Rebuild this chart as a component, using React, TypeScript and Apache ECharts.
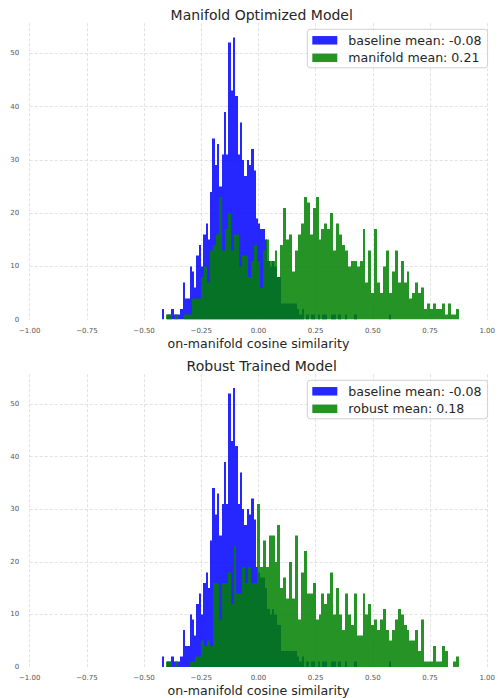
import { useEffect, useRef } from "react";
import * as echarts from "echarts";

// ---- data ----
const xTickValues = [-1, -0.75, -0.5, -0.25, 0, 0.25, 0.5, 0.75, 1];
const yTickValues = [0, 10, 20, 30, 40, 50];

const baselineStart = -0.4211;
const baselineBinWidth = 0.01;
const baselineCounts = [
  2, 0, 1, 1, 2, 1, 1, 1, 2, 7,
  4, 4, 10, 9, 6, 12, 14, 10, 16, 18,
  15, 24, 34, 29, 33, 25, 31, 39, 31, 52,
  43, 53, 42, 31, 37, 30, 27, 30, 29, 32,
  28, 19, 18, 17, 17, 15, 11, 10, 11, 10,
  8, 8, 3, 3, 3, 3, 3, 3, 3, 2,
  1, 2, 0, 1, 0, 1, 1, 0, 1, 0,
  1, 1, 0, 0, 1, 1, 0, 1, 0, 0,
  1, 0, 0, 0, 1, 0, 0, 0, 0, 0,
  0, 0, 0, 0, 0, 0, 0, 0, 0, 1,
];

const greenStart = -0.4039;
const greenBinWidth = 0.01282;
const manifoldCounts = [
  1, 1, 0, 1, 0, 0, 1, 1, 1, 4,
  4, 4, 8, 10, 7, 13, 14, 16, 23, 13,
  17, 20, 13, 16, 16, 10, 12, 12, 8, 11,
  14, 11, 6, 13, 15, 11, 11, 13, 8, 14,
  21, 15, 16, 9, 13, 16, 18, 23, 22, 16,
  21, 23, 15, 17, 18, 17, 20, 13, 18, 16,
  14, 13, 10, 11, 11, 10, 11, 17, 7, 13,
  5, 17, 7, 5, 10, 13, 5, 9, 13, 7,
  11, 7, 9, 4, 5, 7, 5, 6, 2, 3,
  2, 3, 2, 2, 3, 1, 3, 1, 1, 2,
];
const robustCounts = [
  1, 1, 0, 1, 0, 0, 0, 0, 1, 1,
  2, 2, 5, 4, 5, 4, 16, 16, 9, 16,
  16, 18, 12, 23, 14, 14, 19, 16, 19, 16,
  16, 31, 19, 24, 19, 25, 25, 20, 27, 15,
  17, 13, 20, 13, 25, 9, 18, 22, 14, 14,
  16, 9, 10, 14, 12, 14, 18, 10, 15, 10,
  7, 14, 10, 8, 14, 6, 6, 14, 10, 12,
  8, 9, 7, 9, 11, 7, 5, 7, 9, 11,
  10, 8, 7, 5, 5, 7, 3, 9, 1, 1,
  1, 4, 1, 1, 4, 3, 0, 0, 1, 2,
];

const titles = ["Manifold Optimized Model", "Robust Trained Model"];
const baselineLabel = "baseline mean: -0.08";
const greenLabels = ["manifold mean: 0.21", "robust mean: 0.18"];
const xAxisTitle = "on-manifold cosine similarity";

// ---- styles ----
const FONT = "DejaVu Sans";
const BLUE = "rgba(0,0,255,0.85)";
const GREEN = "rgba(0,128,0,0.85)";
const TEXT = "#262626";
const TICK = "#555555";
const GRID = "#dadada";
const Y_MAX = 55.65;

const toBins = (start: number, width: number, counts: number[]) =>
  counts.map((c, i) => [start + i * width, start + (i + 1) * width, c]);

const histSeries = (
  name: string,
  start: number,
  width: number,
  counts: number[],
  color: string,
  idx: number
) => ({
  type: "custom",
  name,
  xAxisIndex: idx,
  yAxisIndex: idx,
  data: toBins(start, width, counts),
  encode: { x: [0, 1], y: 2 },
  itemStyle: { color },
  silent: true,
  clip: true,
  renderItem: (_params: any, api: any) => {
    const x0 = api.value(0);
    const x1 = api.value(1);
    const c = api.value(2);
    if (!c) return null;
    const a = api.coord([x0, c]);
    const b = api.coord([x1, 0]);
    const left = Math.round(a[0]);
    const right = Math.round(b[0]);
    const top = Math.round(a[1] * 2) / 2;
    return {
      type: "rect",
      shape: { x: left, y: top, width: right - left, height: b[1] - top },
      style: { fill: color },
    };
  },
});

const fmtX = (v: number) =>
  (v < 0 ? "\u2212" : "") + Math.abs(v).toFixed(2);

export default function App() {
  const ref = useRef<HTMLDivElement>(null);
  useEffect(() => {
    if (!ref.current) return;
    const chart = echarts.init(ref.current, null, { renderer: "svg" });
    const gridTops = [23.2, 374.2];
    const plotH = 296.4;
    const plotLeft = 29.7;
    const plotRight = 4.3;
    const xAxes = gridTops.map((_, i) => ({
      type: "value",
      gridIndex: i,
      min: -1,
      max: 1,
      interval: 0.25,
      axisLine: { show: false },
      axisTick: { show: false },
      axisLabel: {
        fontSize: 7,
        color: TICK,
        fontFamily: FONT,
        margin: 7.5,
        formatter: (v: number) =>
          xTickValues.some((t) => Math.abs(t - v) < 1e-6) ? fmtX(v) : "",
      },
      splitLine: {
        show: true,
        lineStyle: { color: GRID, width: 0.8, type: [3, 2] },
      },
      name: xAxisTitle,
      nameLocation: "middle",
      nameGap: 17,
      nameTextStyle: { fontSize: 12.6, color: TEXT, fontFamily: FONT },
    }));
    const yAxes = gridTops.map((_, i) => ({
      type: "value",
      gridIndex: i,
      min: 0,
      max: Y_MAX,
      interval: 10,
      axisLine: { show: false },
      axisTick: { show: false },
      axisLabel: {
        fontSize: 7,
        color: TICK,
        fontFamily: FONT,
        margin: 10.5,
        showMaxLabel: false,
        formatter: (v: number) =>
          yTickValues.includes(Math.round(v)) && Math.abs(v - Math.round(v)) < 1e-6
            ? String(Math.round(v))
            : "",
      },
      splitLine: {
        show: true,
        showMinLine: false,
        showMaxLine: false,
        lineStyle: { color: GRID, width: 0.8, type: [3, 2] },
      },
    }));
    const legends = gridTops.map((top, i) => ({
      data: [baselineLabel, greenLabels[i]],
      orient: "vertical",
      left: 307.3,
      top: top + 6.1,
      icon: "rect",
      itemWidth: 25,
      itemHeight: 8.5,
      itemGap: 4.5,
      selectedMode: false,
      backgroundColor: "rgba(255,255,255,0.8)",
      borderColor: "#d0d0d0",
      borderWidth: 1,
      borderRadius: 3,
      padding: [4.5, 6, 3.5, 5],
      textStyle: {
        fontSize: 12.6,
        color: TEXT,
        fontFamily: FONT,
        padding: [0, 0, 0, 6],
      },
    }));
    chart.setOption({
      animation: false,
      backgroundColor: "#ffffff",
      grid: gridTops.map((top) => ({
        left: plotLeft,
        right: plotRight,
        top,
        height: plotH,
        containLabel: false,
      })),
      xAxis: xAxes,
      yAxis: yAxes,
      legend: legends,
      graphic: gridTops.map((top, i) => ({
        type: "text",
        x: 261.7,
        y: top - 8.2,
        style: {
          text: titles[i],
          fontSize: 14,
          fontFamily: FONT,
          fill: TEXT,
          align: "center",
          verticalAlign: "middle",
        },
      })),
      series: [
        histSeries(baselineLabel, baselineStart, baselineBinWidth, baselineCounts, BLUE, 0),
        histSeries(greenLabels[0], greenStart, greenBinWidth, manifoldCounts, GREEN, 0),
        histSeries(baselineLabel, baselineStart, baselineBinWidth, baselineCounts, BLUE, 1),
        histSeries(greenLabels[1], greenStart, greenBinWidth, robustCounts, GREEN, 1),
      ],
    });
    return () => chart.dispose();
  }, []);
  return (
    <div
      ref={ref}
      style={{ position: "absolute", left: 0, top: 0, width: 498, height: 698 }}
    />
  );
}
